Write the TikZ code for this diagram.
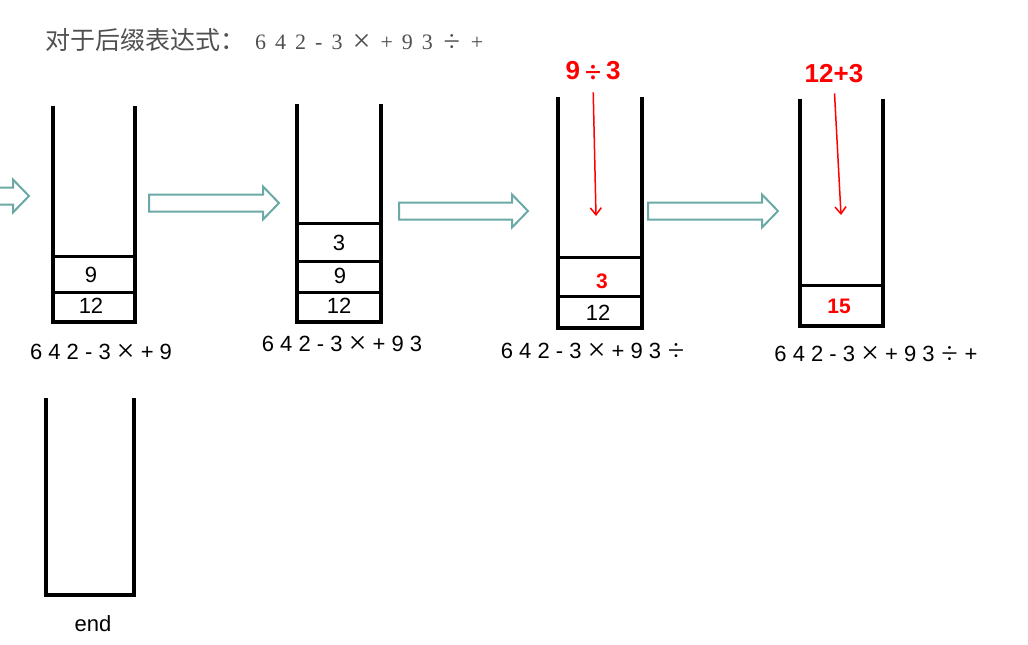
\documentclass[tikz,border=0pt]{standalone}
\usepackage{fontspec}
\setmainfont{Liberation Sans}
\newfontfamily\cjk{Noto Sans CJK SC}
\newfontfamily\serifnum{Liberation Serif}
\usetikzlibrary{arrows.meta,positioning,calc}
\definecolor{StackTeal}{HTML}{6AA9A5}
\definecolor{EvalRed}{HTML}{FF0000}
\definecolor{TitleGray}{HTML}{505050}
% wide thin operators, as in the slides
\newcommand{\mul}[1][30pt]{\makebox[#1]{\raisebox{-2.6pt}{\fontsize{32}{32}\selectfont\serifnum ×}}}
\newcommand{\dvd}[1][30pt]{\makebox[#1]{\raisebox{-2.2pt}{\fontsize{30}{30}\selectfont\serifnum ÷}}}
% hollow block arrow: tail x, tip x, centre y
\newcommand{\blockarr}[3]{\draw[blk] (#1,#3-8.5) -- (#2-16,#3-8.5) -- (#2-16,#3-16.5) -- (#2,#3)
  -- (#2-16,#3+16.5) -- (#2-16,#3+8.5) -- (#1,#3+8.5) -- cycle;}

\begin{document}
\begin{tikzpicture}[x=1pt,y=-1pt,>=Latex,
 wall/.style={line width=4pt,line join=miter},
 sep/.style={line width=3pt},
 blk/.style={draw=StackTeal,line width=2pt,fill=white},
 val/.style={font=\fontsize{22}{24}\selectfont,inner sep=0pt},
 hot/.style={font=\bfseries\fontsize{21}{24}\selectfont,text=EvalRed,inner sep=0pt},
 op/.style={font=\bfseries\fontsize{26}{28}\selectfont,text=EvalRed,inner sep=0pt},
 expr/.style={font=\fontsize{22}{24}\selectfont,inner sep=0pt},
 evalarr/.style={draw=EvalRed,line width=1.5pt,shorten <=10pt,-{Straight Barb[length=7pt,width=11pt]}}]
\useasboundingbox (0,0) rectangle (1028,645);

\node[anchor=west,text=TitleGray,inner sep=0pt] (title) at (45,40)
 {\makebox[210pt][l]{\fontsize{25}{26}\selectfont\cjk 对于后缀表达式：}%
  \serifnum\fontsize{22}{26}\selectfont\spaceskip=9pt
  6 4 2 - 3\mul[38pt]+ 9 3\dvd[38pt]+};

% block arrows between steps
\begin{scope}
\clip (0,0) rectangle (1028,645);
\blockarr{-10}{29}{196}
\end{scope}
\blockarr{149}{279}{203}
\blockarr{399}{528}{211}
\blockarr{648}{778}{211}

% stack 1
\draw[wall] (53,106) -- (53,322) -- (135,322) -- (135,106);
\draw[sep] (53,256) -- (135,256); \draw[sep] (53,292) -- (135,292);
\node[val] (s1a) at (91,275) {9};
\node[val] (s1b) at (91,306) {12};
\node[expr] (e1) at (101,353) {6 4 2 - 3\mul+ 9};

% stack 2
\draw[wall] (297,104) -- (297,322) -- (381,322) -- (381,104);
\draw[sep] (297,223) -- (381,223); \draw[sep] (297,261) -- (381,261); \draw[sep] (297,292) -- (381,292);
\node[val] (s2a) at (339,243) {3};
\node[val] (s2b) at (340,276) {9};
\node[val] (s2c) at (339,306) {12};
\node[expr] (e2) at (342,345) {6 4 2 - 3\mul+ 9 3};

% stack 3
\draw[wall] (558,97) -- (558,328) -- (642,328) -- (642,97);
\draw[sep] (558,257) -- (642,257); \draw[sep] (558,296) -- (642,296);
\node[hot] (s3a) at (602,281) {3};
\node[val] (s3b) at (598,313) {12};
\node[op] (op3) at (593,72) {9\dvd[26pt]3};
\coordinate (tip3) at (596,216);
\draw[evalarr] (op3.south) -- (tip3);
\node[expr] (e3) at (596,352) {6 4 2 - 3\mul+ 9 3\dvd};

% stack 4
\draw[wall] (800,99) -- (800,326) -- (883,326) -- (883,99);
\draw[sep] (800,285) -- (883,285);
\node[hot] (s4a) at (839,306) {15};
\node[op] (op4) at (834,74) {12+3};
\coordinate (tip4) at (841,215);
\draw[evalarr] (op4.south) -- (tip4);
\node[expr] (e4) at (876,355) {6 4 2 - 3\mul+ 9 3\dvd+};

% final empty stack
\draw[wall] (46,398) -- (46,595) -- (134,595) -- (134,398);
\node[expr] (fin) at (93,624) {end};
\end{tikzpicture}
\end{document}
